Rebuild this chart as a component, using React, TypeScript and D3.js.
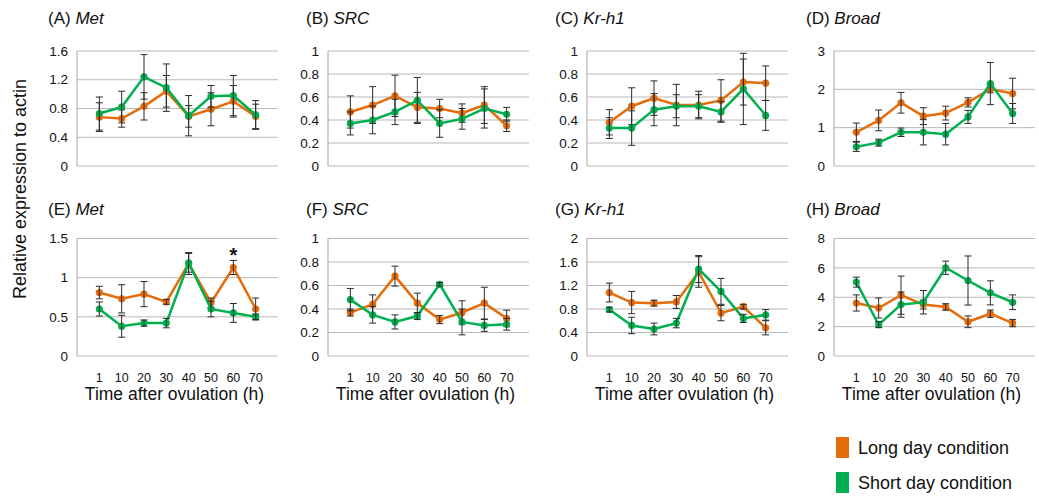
import React from 'react'
import * as d3 from 'd3'

// time points (h after ovulation)
const times = ['1', '10', '20', '30', '40', '50', '60', '70']

// (A) Met, top row
const metTopLong = [0.68, 0.66, 0.83, 1.04, 0.69, 0.79, 0.9, 0.69]
const metTopLongErr = [0.2, 0.12, 0.19, 0.22, 0.15, 0.23, 0.22, 0.17]
const metTopShort = [0.73, 0.82, 1.24, 1.09, 0.7, 0.97, 0.98, 0.71]
const metTopShortErr = [0.23, 0.22, 0.31, 0.33, 0.28, 0.15, 0.28, 0.2]

// (B) SRC
const srcTopLong = [0.47, 0.53, 0.61, 0.51, 0.5, 0.46, 0.53, 0.35]
const srcTopLongErr = [0.14, 0.16, 0.18, 0.13, 0.08, 0.08, 0.16, 0.05]
const srcTopShort = [0.37, 0.4, 0.47, 0.57, 0.37, 0.41, 0.5, 0.45]
const srcTopShortErr = [0.1, 0.12, 0.11, 0.2, 0.12, 0.09, 0.17, 0.06]

// (C) Kr-h1
const krTopLong = [0.38, 0.52, 0.59, 0.53, 0.53, 0.57, 0.73, 0.72]
const krTopLongErr = [0.11, 0.16, 0.15, 0.18, 0.12, 0.18, 0.2, 0.15]
const krTopShort = [0.33, 0.33, 0.49, 0.52, 0.52, 0.47, 0.67, 0.44]
const krTopShortErr = [0.09, 0.15, 0.14, 0.1, 0.1, 0.09, 0.31, 0.13]

// (D) Broad
const brTopLong = [0.88, 1.19, 1.65, 1.3, 1.38, 1.66, 2.01, 1.89]
const brTopLongErr = [0.24, 0.27, 0.27, 0.22, 0.18, 0.12, 0.1, 0.4]
const brTopShort = [0.5, 0.61, 0.88, 0.88, 0.83, 1.28, 2.15, 1.37]
const brTopShortErr = [0.12, 0.09, 0.11, 0.33, 0.28, 0.17, 0.55, 0.26]

// (E) Met, bottom row
const metBotLong = [0.81, 0.73, 0.79, 0.69, 1.18, 0.68, 1.13, 0.6]
const metBotLongErr = [0.08, 0.18, 0.16, 0.03, 0.14, 0.06, 0.09, 0.14]
const metBotShort = [0.6, 0.38, 0.42, 0.42, 1.19, 0.6, 0.55, 0.5]
const metBotShortErr = [0.09, 0.14, 0.04, 0.06, 0.12, 0.1, 0.12, 0.035]

// (F) SRC
const srcBotLong = [0.37, 0.44, 0.68, 0.45, 0.31, 0.37, 0.45, 0.32]
const srcBotLongErr = [0.03, 0.08, 0.085, 0.085, 0.035, 0.1, 0.135, 0.07]
const srcBotShort = [0.48, 0.35, 0.29, 0.34, 0.61, 0.29, 0.26, 0.27]
const srcBotShortErr = [0.095, 0.07, 0.06, 0.03, 0.015, 0.11, 0.05, 0.05]

// (G) Kr-h1
const krBotLong = [1.08, 0.91, 0.9, 0.92, 1.43, 0.73, 0.84, 0.48]
const krBotLongErr = [0.16, 0.19, 0.05, 0.11, 0.26, 0.13, 0.04, 0.12]
const krBotShort = [0.79, 0.52, 0.46, 0.56, 1.48, 1.1, 0.64, 0.7]
const krBotShortErr = [0.04, 0.14, 0.1, 0.08, 0.23, 0.22, 0.07, 0.09]

// (H) Broad
const brBotLong = [3.61, 3.27, 4.14, 3.5, 3.34, 2.33, 2.88, 2.24]
const brBotLongErr = [0.55, 0.68, 1.3, 0.3, 0.22, 0.4, 0.25, 0.25]
const brBotShort = [5.03, 2.13, 3.5, 3.66, 6.01, 5.14, 4.3, 3.66]
const brBotShortErr = [0.34, 0.2, 0.86, 0.8, 0.45, 1.67, 0.82, 0.5]

// y tick labels per panel
const ticksA = [0, 0.4, 0.8, 1.2, 1.6]
const ticks01 = [0, 0.2, 0.4, 0.6, 0.8, 1]
const ticksD = [0, 1, 2, 3]
const ticksE = [0, 0.5, 1, 1.5]
const ticksG = [0, 0.4, 0.8, 1.2, 1.6, 2]
const ticksH = [0, 2, 4, 6, 8]

const letters = ['A', 'B', 'C', 'D', 'E', 'F', 'G', 'H']
const genes = ['Met', 'SRC', 'Kr-h1', 'Broad', 'Met', 'SRC', 'Kr-h1', 'Broad']
const legendLabels = ['Long day condition', 'Short day condition']

const panels = [
	{ long: metTopLong, longErr: metTopLongErr, short: metTopShort, shortErr: metTopShortErr, ticks: ticksA },
	{ long: srcTopLong, longErr: srcTopLongErr, short: srcTopShort, shortErr: srcTopShortErr, ticks: ticks01 },
	{ long: krTopLong, longErr: krTopLongErr, short: krTopShort, shortErr: krTopShortErr, ticks: ticks01 },
	{ long: brTopLong, longErr: brTopLongErr, short: brTopShort, shortErr: brTopShortErr, ticks: ticksD },
	{ long: metBotLong, longErr: metBotLongErr, short: metBotShort, shortErr: metBotShortErr, ticks: ticksE },
	{ long: srcBotLong, longErr: srcBotLongErr, short: srcBotShort, shortErr: srcBotShortErr, ticks: ticks01 },
	{ long: krBotLong, longErr: krBotLongErr, short: krBotShort, shortErr: krBotShortErr, ticks: ticksG },
	{ long: brBotLong, longErr: brBotLongErr, short: brBotShort, shortErr: brBotShortErr, ticks: ticksH },
]

const ORANGE = '#E46C0A'
const GREEN = '#00B050'
const GRID = '#b8b8b8'
const FONT = '"Liberation Sans", Arial, sans-serif'

const colX = [77, 328, 587, 834]
const titleX = [48, 306, 555, 806]
const rowTop = [51, 238.5]
const rowBottom = [166, 356]
const plotW = 201

function Panel({ index }) {
	const p = panels[index]
	const col = index % 4
	const row = Math.floor(index / 4)
	const x0 = colX[col]
	const x = d3.scalePoint().domain(times).range([x0, x0 + plotW]).padding(1)
	const y = d3
		.scaleLinear()
		.domain([0, p.ticks[p.ticks.length - 1]])
		.range([rowBottom[row], rowTop[row]])

	const line = d3
		.line()
		.x((d, i) => x(times[i]))
		.y(d => y(d))

	const series = [
		{ values: p.long, err: p.longErr, color: ORANGE },
		{ values: p.short, err: p.shortErr, color: GREEN },
	]

	return (
		<g>
			<text x={titleX[col]} y={row === 0 ? 24 : 215} fontSize={17} fill="#111">
				({letters[index]}) <tspan fontStyle="italic">{genes[index]}</tspan>
			</text>
			{p.ticks.map(t => (
				<g key={t}>
					<line x1={x0} x2={x0 + plotW} y1={y(t)} y2={y(t)} stroke={GRID} strokeWidth={1} />
					<text x={x0 - 9} y={y(t)} dy="0.35em" textAnchor="end" fontSize={13.5} fill="#111">
						{t}
					</text>
				</g>
			))}
			<line x1={x0} x2={x0} y1={rowTop[row]} y2={rowBottom[row]} stroke="#a6a6a6" strokeWidth={1} />
			{series.map((s, si) => (
				<g key={si}>
					<path d={line(s.values)} fill="none" stroke={s.color} strokeWidth={2.5} />
					{s.values.map((v, i) => (
						<circle key={i} cx={x(times[i])} cy={y(v)} r={3.6} fill={s.color} />
					))}
					{s.values.map((v, i) => {
						const cx = x(times[i])
						const top = y(v + s.err[i])
						const bot = y(v - s.err[i])
						return (
							<g key={'e' + i} stroke="#2a2a2a" strokeWidth={1}>
								<line x1={cx} x2={cx} y1={top} y2={bot} />
								<line x1={cx - 3.5} x2={cx + 3.5} y1={top} y2={top} />
								<line x1={cx - 3.5} x2={cx + 3.5} y1={bot} y2={bot} />
							</g>
						)
					})}
				</g>
			))}
			{row === 1 && (
				<g>
					{times.map(t => (
						<text key={t} x={x(t)} y={381.5} textAnchor="middle" fontSize={12.5} fill="#111">
							{t}
						</text>
					))}
					<text x={x0 + plotW / 2 - 3} y={400} textAnchor="middle" fontSize={17.5} fill="#111">
						Time after ovulation (h)
					</text>
				</g>
			)}
			{index === 4 && (
				<text x={x('60')} y={262} textAnchor="middle" fontSize={20} fontWeight="bold" fill="#111">
					*
				</text>
			)}
		</g>
	)
}

export default function App() {
	return (
		<svg
			width={1039}
			height={501}
			style={{ position: 'absolute', left: 0, top: 0, background: '#fff' }}
			fontFamily={FONT}
		>
			<text transform="translate(26,189) rotate(-90)" textAnchor="middle" fontSize={18} fill="#111">
				Relative expression to actin
			</text>
			{panels.map((p, i) => (
				<Panel key={i} index={i} />
			))}
			{legendLabels.map((label, i) => (
				<g key={label}>
					<rect x={836} y={437 + i * 35} width={13} height={21} fill={i === 0 ? ORANGE : GREEN} />
					<text x={858} y={448 + i * 35} dy="0.35em" fontSize={18} fill="#111">
						{label}
					</text>
				</g>
			))}
		</svg>
	)
}
